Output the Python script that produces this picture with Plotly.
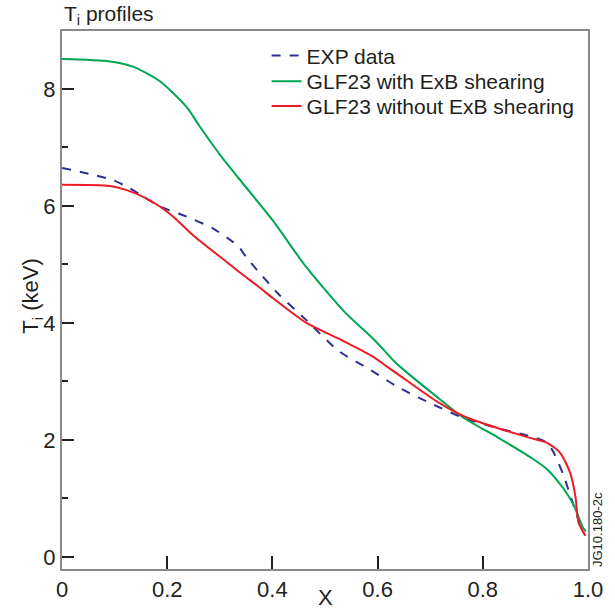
import plotly.graph_objects as go

# ---- data ----
x_exp = [0, 0.060, 0.097, 0.123, 0.160, 0.186, 0.236, 0.286, 0.324, 0.337, 0.349, 0.375, 0.412,
         0.463, 0.526, 0.588, 0.639, 0.702, 0.765, 0.829, 0.891, 0.922, 0.935, 0.954, 0.973, 0.988, 0.992]
t_exp = [6.65, 6.53, 6.44, 6.33, 6.13, 5.99, 5.82, 5.62, 5.39, 5.29, 5.14, 4.86, 4.49,
         4.06, 3.52, 3.19, 2.90, 2.62, 2.37, 2.20, 2.06, 1.95, 1.78, 1.38, 0.87, 0.48, 0.42]

x_with = [0, 0.091, 0.135, 0.186, 0.236, 0.261, 0.299, 0.337, 0.400, 0.463, 0.538, 0.595, 0.632,
          0.652, 0.708, 0.765, 0.829, 0.891, 0.922, 0.954, 0.973, 0.991, 0.996]
t_with = [8.51, 8.47, 8.38, 8.13, 7.70, 7.37, 6.89, 6.46, 5.76, 4.97, 4.18, 3.70, 3.34,
          3.18, 2.77, 2.37, 2.04, 1.70, 1.50, 1.16, 0.88, 0.49, 0.44]

x_without = [0, 0.091, 0.123, 0.160, 0.186, 0.211, 0.249, 0.312, 0.337, 0.375, 0.400, 0.463, 0.526,
             0.588, 0.620, 0.639, 0.714, 0.765, 0.829, 0.891, 0.922, 0.947, 0.966, 0.976, 0.982, 0.995]
t_without = [6.36, 6.34, 6.27, 6.13, 5.99, 5.82, 5.50, 5.05, 4.87, 4.61, 4.43, 4.01, 3.73,
             3.44, 3.24, 3.12, 2.65, 2.40, 2.20, 2.03, 1.95, 1.78, 1.44, 1.04, 0.59, 0.36]

x_ticks = [0, 0.2, 0.4, 0.6, 0.8, 1.0]
x_ticklabels = ["0", "0.2", "0.4", "0.6", "0.8", "1.0"]
y_ticks = [0, 2, 4, 6, 8]
y_ticklabels = ["0", "2", "4", "6", "8"]

names = ["EXP data", "GLF23 with ExB shearing", "GLF23 without ExB shearing"]
colors = ["#2e3192", "#00a651", "#ed1c24"]

FONT = "Liberation Sans, Arial, Helvetica, sans-serif"
TXT = "#231f20"

fig = go.Figure()
fig.add_trace(go.Scatter(x=x_exp, y=t_exp, mode="lines", name=names[0], legend="legend",
                         line=dict(color=colors[0], width=2, dash="dash", shape="spline", smoothing=0.7)))
fig.add_trace(go.Scatter(x=x_with, y=t_with, mode="lines", name=names[1], legend="legend2",
                         line=dict(color=colors[1], width=2, shape="spline", smoothing=0.7)))
fig.add_trace(go.Scatter(x=x_without, y=t_without, mode="lines", name=names[2], legend="legend3",
                         line=dict(color=colors[2], width=2, shape="spline", smoothing=0.7)))

def leg(y):
    return dict(x=0.389, y=y, xanchor="left", yanchor="middle",
                bgcolor="rgba(0,0,0,0)", borderwidth=0, itemwidth=30,
                font=dict(family=FONT, size=21, color=TXT))

fig.update_layout(
    width=615, height=614,
    margin=dict(l=62, r=24, t=31, b=40, pad=0),
    paper_bgcolor="white", plot_bgcolor="white",
    font=dict(family=FONT, size=20, color=TXT),
    showlegend=True,
    legend=leg(0.954), legend2=leg(0.906), legend3=leg(0.860),
    xaxis=dict(range=[0, 1], tickvals=x_ticks, ticktext=x_ticklabels,
               ticks="inside", ticklen=13, tickwidth=1.5, tickcolor=TXT,
               showline=True, linecolor="#8a8a8a", linewidth=2, mirror=True,
               showgrid=False, zeroline=False,
               tickfont=dict(family=FONT, size=22, color=TXT)),
    yaxis=dict(range=[-0.207, 8.99], tickvals=y_ticks, ticktext=y_ticklabels,
               ticks="inside", ticklen=12, tickwidth=1.5, tickcolor=TXT,
               minor=dict(ticks="inside", ticklen=6, tickwidth=1.5, tickcolor=TXT, dtick=1, tick0=0),
               showline=True, linecolor="#8a8a8a", linewidth=2, mirror=True,
               showgrid=False, zeroline=False,
               tickfont=dict(family=FONT, size=22, color=TXT)),
)

fig.add_annotation(text="T<sub>i</sub> profiles", xref="paper", yref="paper", x=0, y=1,
                   xanchor="left", yanchor="bottom", yshift=1, showarrow=False,
                   font=dict(family=FONT, size=21, color=TXT))
fig.add_annotation(text="X", xref="paper", yref="paper", x=0.5, y=0,
                   xanchor="center", yanchor="top", yshift=-14, showarrow=False,
                   font=dict(family=FONT, size=22, color=TXT))
fig.add_annotation(text="T<sub>i</sub> (keV)", xref="paper", yref="paper", x=0, y=0.508,
                   xanchor="center", yanchor="middle", xshift=-30, textangle=-90, showarrow=False,
                   font=dict(family=FONT, size=22, color=TXT))
fig.add_annotation(text="JG10.180-2c", xref="paper", yref="paper", x=1, y=0,
                   xanchor="left", yanchor="bottom", xshift=0, yshift=0, textangle=-90, showarrow=False,
                   font=dict(family=FONT, size=13, color=TXT))

fig.write_html("out.html")
